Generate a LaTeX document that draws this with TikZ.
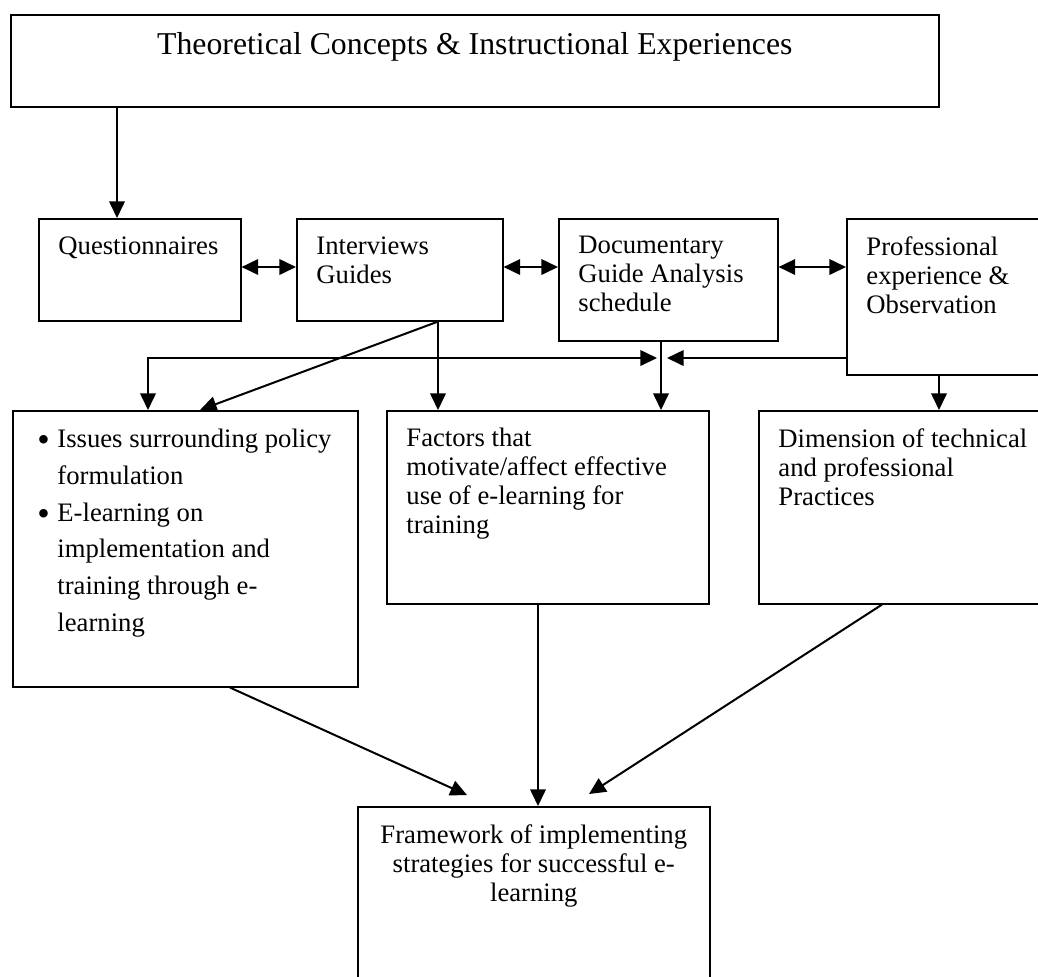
\documentclass[tikz,border=0pt]{standalone}
\usepackage{fontspec}
\setmainfont{Liberation Serif}
\usetikzlibrary{arrows.meta}
\newdimen\pxu \pxu=0.45pt
\def\lbl#1#2{\node[txt] (#1-t) at ([shift={(20,18)}]#1.north west) {#2}}
\def\bul{\llap{\raisebox{-1.8pt}{\fontsize{16}{13}\selectfont\textbullet}\hspace{3.4pt}}}
\tikzstyle{blk}=[draw,line width=0.7pt,anchor=north west,inner sep=0pt]
\tikzstyle{txt}=[anchor=north west,align=left,inner sep=0pt,font=\fontsize{12}{13}\selectfont]
\tikzstyle{arr}=[line width=0.9pt,-{Triangle[length=7.5pt,width=7pt]}]
\tikzstyle{arrs}=[line width=0.9pt,{Triangle[length=7.5pt,width=7pt]}-{Triangle[length=7.5pt,width=7pt]}]
\begin{document}
\begin{tikzpicture}[x=\pxu,y=-\pxu]
    \useasboundingbox (0,0) rectangle (1038,976);
    \clip (0,0) rectangle (1038,976);
    % boxes
    \node[blk,minimum width=928*\pxu,minimum height=92*\pxu] (top) at (10,14) {};
    \node[anchor=base,inner sep=0pt,font=\fontsize{14.3}{16}\selectfont] (top-t) at ([shift={(0,40)}]top.north) {Theoretical Concepts \& Instructional Experiences};
    \node[blk,minimum width=202*\pxu,minimum height=102*\pxu] (qn) at (38,218) {};
    \lbl{qn}{Questionnaires};
    \node[blk,minimum width=206*\pxu,minimum height=102*\pxu] (ig) at (296,218) {};
    \lbl{ig}{Interviews\\Guides};
    \node[blk,minimum width=219*\pxu,minimum height=122*\pxu] (dg) at (558,218) {};
    \lbl{dg}{Documentary\\Guide Analysis\\schedule};
    \node[blk,minimum width=230*\pxu,minimum height=156*\pxu] (po) at (846,218) {};
    \lbl{po}{Professional\\experience \&\\Observation};
    \node[blk,minimum width=345*\pxu,minimum height=276*\pxu] (is) at (12,410) {};
    \node[txt,font=\fontsize{12}{16.5}\selectfont] (is-t) at ([shift={(45,19)}]is.north west) {\bul Issues surrounding policy\\formulation\\\bul E-learning on\\implementation and\\training through e-\\learning};
    \node[blk,minimum width=322*\pxu,minimum height=193*\pxu] (fa) at (386,410) {};
    \lbl{fa}{Factors that\\motivate/affect effective\\use of e-learning for\\training};
    \node[blk,minimum width=320*\pxu,minimum height=193*\pxu] (dm) at (758,410) {};
    \lbl{dm}{Dimension of technical\\and professional\\Practices};
    \node[blk,minimum width=352*\pxu,minimum height=200*\pxu] (fw) at (357,806) {};
    \node[txt,anchor=north,align=center] (fw-t) at ([shift={(0,18)}]fw.north) {Framework of implementing\\strategies for successful e-\\learning};
    % connectors
    \coordinate (c1) at (117,0);
    \coordinate (row) at (0,267);
    \coordinate (bus) at (657,358);
    \coordinate (bus2) at (667,358);
    \coordinate (c2) at (148,0);
    \coordinate (c3) at (661,0);
    \coordinate (c4) at (438,0);
    \coordinate (c5) at (200,0);
    \coordinate (c6) at (939,0);
    \coordinate (c7) at (230,0);
    \coordinate (c8) at (538,0);
    \coordinate (c9) at (882,0);
    \coordinate (fw-l) at (467,795);
    \coordinate (fw-r) at (589,794);
    \draw[arr] (top.south -| c1) -- (qn.north -| c1);
    \draw[arrs] (qn.east |- row) -- (ig.west |- row);
    \draw[arrs] (ig.east |- row) -- (dg.west |- row);
    \draw[arrs] (dg.east |- row) -- (po.west |- row);
    \draw[arrs] (is.north -| c2) |- (bus);
    \draw[arr] (po.west |- bus2) -- (bus2);
    \draw[arr] (dg.south -| c3) -- (fa.north -| c3);
    \draw[arr] (ig.south -| c4) -- (is.north -| c5);
    \draw[arr] (ig.south -| c4) -- (fa.north -| c4);
    \draw[arr] (po.south -| c6) -- (dm.north -| c6);
    \draw[arr] (is.south -| c7) -- (fw-l);
    \draw[arr] (fa.south -| c8) -- (fw.north -| c8);
    \draw[arr] (dm.south -| c9) -- (fw-r);
\end{tikzpicture}
\end{document}
